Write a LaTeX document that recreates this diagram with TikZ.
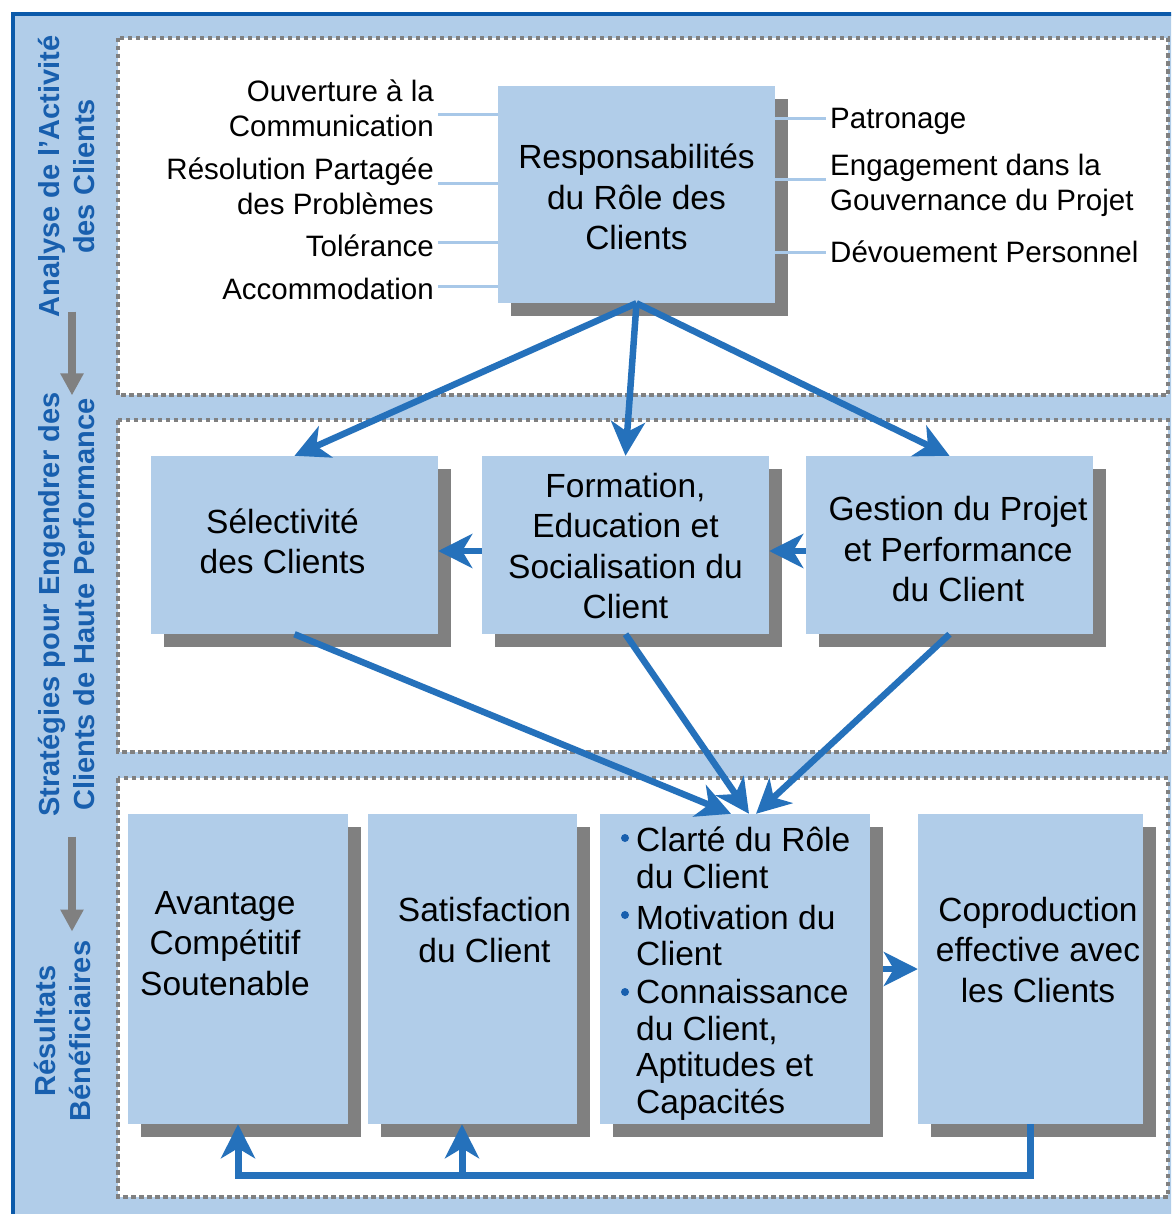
\documentclass[tikz,border=0pt]{standalone}
\usepackage{fontspec}
\setmainfont{Liberation Sans}
\usetikzlibrary{arrows.meta,shadows}
\definecolor{lblue}{RGB}{177,205,233}
\definecolor{fblue}{RGB}{11,90,170}
\definecolor{ablue}{RGB}{37,113,187}
\definecolor{tblue}{RGB}{24,95,174}
\definecolor{sgray}{RGB}{128,128,128}
\definecolor{cblue}{RGB}{168,200,232}
\tikzset{
 box/.style 2 args={fill=lblue, inner sep=0pt, minimum width=#1pt, minimum height=#2pt,
   drop shadow={shadow xshift=13pt, shadow yshift=-13pt, fill=sgray, opacity=1}},
 btxt/.style={font=\fontsize{33.5}{40.5}\selectfont, align=center, inner sep=0pt},
 ctxt/.style={font=\fontsize{33.5}{36.5}\selectfont, align=left, inner sep=0pt},
 ltxt/.style={font=\fontsize{29.5}{35}\selectfont, inner sep=0pt},
 side/.style={font=\bfseries\fontsize{29}{35}\selectfont, text=tblue, align=center, rotate=90, inner sep=0pt},
 panel/.style={fill=white, draw=sgray, line width=4.5pt, dash pattern=on 4.5pt off 3.5pt},
 conn/.style={draw=cblue, line width=3pt},
 arr/.style={draw=ablue, line width=6.5pt, -{Stealth[length=34pt, width=34pt, inset=10pt]}},
 garr/.style={draw=sgray, line width=8pt, -{Triangle[length=22pt, width=22pt]}},
 bul/.style={circle, fill=tblue, inner sep=0pt, minimum size=8pt},
}
\begin{document}
\begin{tikzpicture}[x=1pt,y=-1pt]
\useasboundingbox (0,0) rectangle (1171,1214);
\clip (0,0) rectangle (1171,1214);
% outer frame
\path[fill=lblue, draw=fblue, line width=4pt] (13,14) rectangle (1200,1240);
% panels
\path[panel] (118,38) rectangle (1168,395);
\path[panel] (118,420) rectangle (1168,752);
\path[panel] (118,778) rectangle (1168,1197);
% sidebar
\node[side] (s1) at (67,176.5) {Analyse de l’Activité\\des Clients};
\node[side] (s2) at (67,604.5) {Stratégies pour Engendrer des\\Clients de Haute Performance};
\node[side] (s3) at (63,1031) {Résultats\\Bénéficiaires};
\draw[garr] ([xshift=5pt,yshift=6pt]s1.west) -- ([xshift=5pt,yshift=-3pt]s2.east);
\draw[garr] ([xshift=5pt,yshift=-20pt]s2.west) -- ([xshift=9pt,yshift=9pt]s3.east);
% boxes
\node[box={277}{217}] (top) at (636.5,194.5) {};
\node[box={287}{178}] (sel) at (294.5,545) {};
\node[box={287}{178}] (form) at (625.5,545) {};
\node[box={287}{178}] (gest) at (949.5,545) {};
\node[box={220}{310}] (av) at (238,969) {};
\node[box={209}{310}] (sat) at (472.5,969) {};
\node[box={270}{310}] (cla) at (735,969) {};
\node[box={225}{310}] (cop) at (1030.5,969) {};
% box texts
\node[btxt] (top-t) at (636.5,197) {Responsabilités\\du Rôle des\\Clients};
\node[btxt] (sel-t) at (282.5,541.5) {Sélectivité\\des Clients};
\node[btxt] (form-t) at (625.5,546) {Formation,\\Education et\\Socialisation du\\Client};
\node[btxt] (gest-t) at (958,549.5) {Gestion du Projet\\et Performance\\du Client};
\node[btxt] (av-t) at (225,943.5) {Avantage\\Compétitif\\Soutenable};
\node[btxt] (sat-t) at (484.5,930) {Satisfaction\\du Client};
\node[btxt] (cop-t) at (1038,950) {Coproduction\\effective avec\\les Clients};
\node[ctxt, anchor=west] (c1) at (636,858) {Clarté du Rôle\\du Client};
\node[ctxt, anchor=west] (c2) at (636,935.5) {Motivation du\\Client};
\node[ctxt, anchor=west] (c3) at (636,1050) {Connaissance\\du Client,\\Aptitudes et\\Capacités};
\node[bul] (b1) at (625,838) {};
\node[bul] (b2) at (625,915) {};
\node[bul] (b3) at (625,992) {};
% side labels
\node[ltxt, align=right, anchor=east] (ouv) at (434,108.5) {Ouverture à la\\Communication};
\node[ltxt, align=right, anchor=east] (res) at (434,186.5) {Résolution Partagée\\des Problèmes};
\node[ltxt, anchor=base east] (tol) at (434,256.6) {Tolérance};
\node[ltxt, anchor=base east] (acc) at (434,299.6) {Accommodation};
\node[ltxt, anchor=base west] (pat) at (830,128.6) {Patronage};
\node[ltxt, align=left, anchor=west] (eng) at (830,185.5) {Engagement dans la\\Gouvernance du Projet};
\node[ltxt, anchor=base west] (dev) at (830,262.6) {Dévouement Personnel};
\coordinate (y1) at (0,115);
\coordinate (y2) at (0,184);
\coordinate (y3) at (0,243);
\coordinate (y4) at (0,287);
\coordinate (y5) at (0,119);
\coordinate (y6) at (0,180);
\coordinate (y7) at (0,253);
\draw[conn, shorten <=4pt] (ouv.east |- y1) -- (top.west |- y1);
\draw[conn, shorten <=4pt] (res.east |- y2) -- (top.west |- y2);
\draw[conn, shorten <=4pt] (tol.east |- y3) -- (top.west |- y3);
\draw[conn, shorten <=4pt] (acc.east |- y4) -- (top.west |- y4);
\draw[conn, shorten >=4pt] (top.east |- y5) -- (pat.west |- y5);
\draw[conn, shorten >=4pt] (top.east |- y6) -- (eng.west |- y6);
\draw[conn, shorten >=4pt] (top.east |- y7) -- (dev.west |- y7);
% arrows
\draw[arr] (top.south) -- (sel.north);
\draw[arr] (top.south) -- (form.north);
\draw[arr] (top.south) -- (gest.north);
\draw[arr] ([yshift=-6pt]form.west) -- ([yshift=-6pt]sel.east);
\draw[arr] ([yshift=-6pt]gest.west) -- ([yshift=-6pt]form.east);
\draw[arr] (sel.south) -- ([xshift=-4pt]cla.north);
\draw[arr] (form.south) -- ([xshift=14pt]cla.north);
\draw[arr] (gest.south) -- ([xshift=21pt]cla.north);
\draw[arr] ([xshift=13pt]cla.east) -- (cop.west);
\draw[arr, line width=7pt] (cop.south) -- ++(0,51) -| (av.south);
\draw[arr, line width=7pt] ([xshift=-10.5pt]sat.south) ++(0,51) -- ([xshift=-10.5pt]sat.south);
\end{tikzpicture}
\end{document}
